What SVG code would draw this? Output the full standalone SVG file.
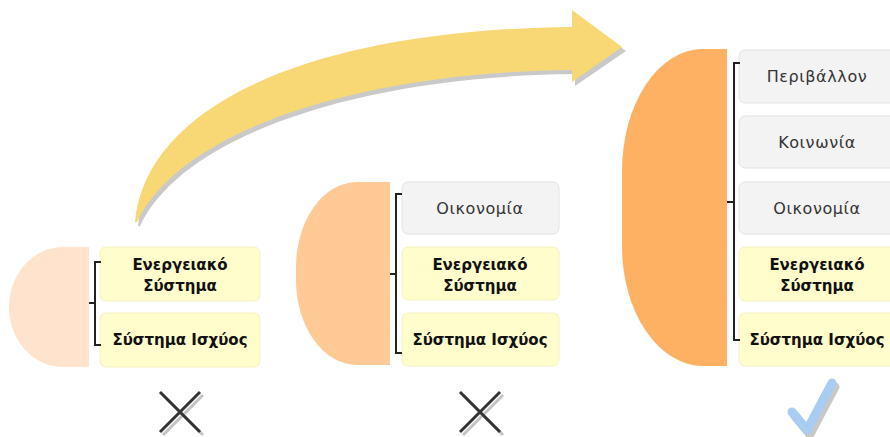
<svg xmlns="http://www.w3.org/2000/svg" width="890" height="437" viewBox="0 0 890 437">
<style>
.yb{fill:#FFFDCB;stroke:#F4F1C0;stroke-width:1}
.gb{fill:#F3F3F3;stroke:#E2E2E2;stroke-width:1}
.ty{font-family:"DejaVu Sans",sans-serif;font-weight:bold;font-size:15px;fill:#111;text-anchor:middle}
.tg{font-family:"DejaVu Sans",sans-serif;font-size:16px;letter-spacing:0.6px;fill:#333;text-anchor:middle}
.br{fill:none;stroke:#222;stroke-width:2}
.x{stroke:#333;stroke-width:3}
.xs{stroke:#C4C4C4;stroke-width:3}
</style>
<rect width="890" height="437" fill="#fff"/>
<g id="arrow">
<path d="M138,226 C148,114 303,34 575,31 V14 L626,51 L575,86 V74 C363,76 183,134 140,226 Z" fill="#C9C9C9"/>
<path d="M135,222 C145,110 300,30 572,27 V10 L622,47 L572,82 V70 C360,72 180,130 137,222 Z" fill="#F8D874"/>
</g>
<g id="group1">
<path d="M89,247 H63 A54,60 0 0 0 9,307 A54,60 0 0 0 63,367 H89 Z" fill="#FFE3CC"/>
<g id="g1-energy"><rect class="yb" x="100" y="247" width="160" height="54" rx="6"/><text class="ty" x="180" y="270">Ενεργειακό</text><text class="ty" x="180" y="291">Σύστημα</text></g>
<g id="g1-power"><rect class="yb" x="100" y="313" width="160" height="54" rx="6"/><text class="ty" x="180" y="345">Σύστημα Ισχύος</text></g>
</g>
<g id="group2">
<path d="M390,182 H357 A61,85 0 0 0 296,267 V280 A61,85 0 0 0 357,365 H390 Z" fill="#FFCA95"/>
<g id="g2-econ"><rect class="gb" x="402" y="182" width="157" height="52" rx="6"/><text class="tg" x="480" y="214">Οικονομία</text></g>
<g id="g2-energy"><rect class="yb" x="402" y="247" width="157" height="53" rx="6"/><text class="ty" x="480" y="270">Ενεργειακό</text><text class="ty" x="480" y="291">Σύστημα</text></g>
<g id="g2-power"><rect class="yb" x="402" y="313" width="157" height="53" rx="6"/><text class="ty" x="480" y="345">Σύστημα Ισχύος</text></g>
</g>
<g id="group3">
<path d="M727,49 H703 A81,122 0 0 0 622,171 V246 A81,120 0 0 0 703,366 H727 Z" fill="#FFB163"/>
<g id="g3-env"><rect class="gb" x="739" y="50" width="157" height="53" rx="6"/><text class="tg" x="817" y="82">Περιβάλλον</text></g>
<g id="g3-soc"><rect class="gb" x="739" y="116" width="157" height="52" rx="6"/><text class="tg" x="817" y="148">Κοινωνία</text></g>
<g id="g3-econ"><rect class="gb" x="739" y="182" width="157" height="52" rx="6"/><text class="tg" x="817" y="214">Οικονομία</text></g>
<g id="g3-energy"><rect class="yb" x="739" y="247" width="157" height="54" rx="6"/><text class="ty" x="817" y="270">Ενεργειακό</text><text class="ty" x="817" y="291">Σύστημα</text></g>
<g id="g3-power"><rect class="yb" x="739" y="313" width="157" height="53" rx="6"/><text class="ty" x="817" y="345">Σύστημα Ισχύος</text></g>
</g>
<g id="connectors">
<path class="br" d="M101,262 H95 V345 H101 M89,303 H95"/>
<path class="br" d="M402,194 H396 V353 H402 M390,274 H396"/>
<path class="br" d="M740,63 H734 V340 H740 M727,202 H734"/>
</g>
<g id="marks">
<path class="xs" d="M163,395 L203,435 M203,395 L163,435"/>
<path class="x" d="M160,392 L200,432 M200,392 L160,432"/>
<path class="xs" d="M463,395 L503,435 M503,395 L463,435"/>
<path class="x" d="M460,392 L500,432 M500,392 L460,432"/>
<path d="M795,416 L810,434 L835,387" fill="none" stroke="#C8C8C8" stroke-width="9" stroke-linecap="round" stroke-linejoin="round"/>
<path d="M792,412 L807,430 L832,383" fill="none" stroke="#A9CCF2" stroke-width="9" stroke-linecap="round" stroke-linejoin="round"/>
</g>
</svg>
